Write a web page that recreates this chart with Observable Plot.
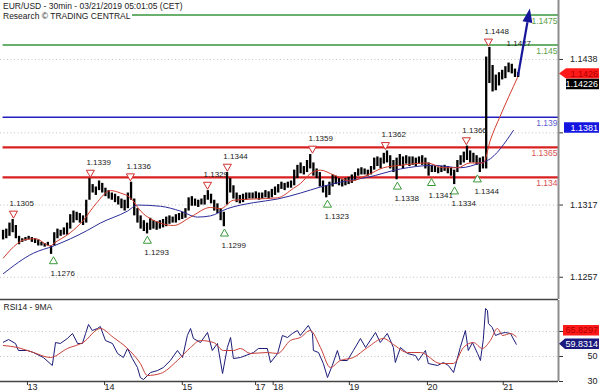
<!DOCTYPE html>
<html>
<head>
<meta charset="utf-8">
<script src="https://cdn.jsdelivr.net/npm/d3@7"></script>
<script src="https://cdn.jsdelivr.net/npm/@observablehq/plot@0.6"></script>
<style>
html,body{margin:0;padding:0;background:#fff;}
#wrap{position:relative;width:600px;height:392px;overflow:hidden;font-family:"Liberation Sans",Arial,sans-serif;}
#chart svg{display:block;overflow:visible}
.t{position:absolute;left:0;background:#fff;font-size:8.5px;line-height:10px;color:#222;padding:0 1px 0 3px;white-space:nowrap}
</style>
</head>
<body>
<div id="wrap">
  <div id="chart"></div>
  <div class="t" style="top:1px">EUR/USD - 30min - 03/21/2019 05:01:05 (CET)</div>
  <div class="t" style="top:11px">Research © TRADING CENTRAL</div>
</div>
<script>
// ---------------- data ----------------
// hourly bars, trading-hour index starting at -7 (13 Mar 00:00 = 0)
const firstHour = -7;
const barHigh = [1.1296,1.1297,1.1302,1.1305,1.1300,1.1291,1.1289,1.1290,1.1291,1.1290,1.1289,1.1288,1.1286,1.1285,1.1286,1.1283,
1.1294,1.1297,1.1296,1.1298,1.1302,1.1309,1.1312,1.1311,1.1310,1.1308,1.1321,1.1339,1.1334,1.1332,1.1337,1.1335,1.1331,1.1329,1.1327,1.1326,
1.1324,1.1322,1.1321,1.1327,1.1336,1.1322,1.1314,1.1308,1.1304,1.1302,1.1306,1.1304,1.1303,1.1304,1.1305,1.1307,1.1308,1.1307,1.1309,1.1310,
1.1311,1.1314,1.1323,1.1324,1.1322,1.1321,1.1322,1.1325,1.1329,1.1326,1.1321,1.1318,1.1314,1.1311,1.1344,1.1339,1.1333,1.1327,1.1325,1.1326,
1.1327,1.1327,1.1327,1.1328,1.1327,1.1327,1.1329,1.1328,1.1330,1.1332,1.1334,1.1336,1.1335,1.1336,1.1337,1.1346,1.1350,1.1352,1.1349,1.1354,
1.1359,1.1352,1.1347,1.1344,1.1337,1.1333,1.1336,1.1342,1.1341,1.1339,1.1338,1.1339,1.1340,1.1342,1.1344,1.1347,1.1348,1.1347,1.1346,1.1349,
1.1356,1.1357,1.1356,1.1360,1.1362,1.1358,1.1354,1.1356,1.1359,1.1357,1.1358,1.1357,1.1357,1.1356,1.1357,1.1358,1.1356,1.1352,1.1350,1.1349,
1.1348,1.1349,1.1350,1.1349,1.1348,1.1346,1.1354,1.1358,1.1361,1.1366,1.1362,1.1360,1.1358,1.1356,1.1357,1.1440,1.1448,1.1433,1.1425,1.1427,
1.1429,1.1432,1.1435,1.1434,1.1430,1.1427];
const barLow = [1.1288,1.1289,1.1291,1.1294,1.1289,1.1284,1.1286,1.1287,1.1288,1.1286,1.1285,1.1283,1.1283,1.1282,1.1283,1.1276,
1.1283,1.1289,1.1291,1.1292,1.1292,1.1297,1.1302,1.1304,1.1302,1.1300,1.1302,1.1321,1.1327,1.1325,1.1329,1.1327,1.1324,1.1322,1.1321,1.1319,
1.1317,1.1314,1.1312,1.1314,1.1321,1.1308,1.1302,1.1297,1.1295,1.1293,1.1296,1.1297,1.1296,1.1297,1.1298,1.1299,1.1301,1.1302,1.1302,1.1304,
1.1305,1.1306,1.1312,1.1316,1.1316,1.1315,1.1317,1.1317,1.1321,1.1318,1.1312,1.1310,1.1304,1.1299,1.1317,1.1327,1.1322,1.1319,1.1318,1.1319,
1.1321,1.1322,1.1322,1.1322,1.1321,1.1322,1.1323,1.1322,1.1323,1.1325,1.1327,1.1330,1.1329,1.1331,1.1331,1.1333,1.1339,1.1343,1.1342,1.1344,
1.1347,1.1341,1.1339,1.1332,1.1327,1.1323,1.1325,1.1332,1.1334,1.1333,1.1332,1.1333,1.1334,1.1335,1.1337,1.1341,1.1342,1.1342,1.1341,1.1342,
1.1346,1.1349,1.1347,1.1351,1.1352,1.1347,1.1344,1.1338,1.1349,1.1347,1.1351,1.1349,1.1350,1.1349,1.1351,1.1350,1.1347,1.1341,1.1344,1.1344,
1.1343,1.1344,1.1345,1.1343,1.1341,1.1334,1.1344,1.1350,1.1352,1.1354,1.1352,1.1352,1.1350,1.1344,1.1347,1.1347,1.1418,1.1411,1.1412,1.1416,
1.1421,1.1422,1.1427,1.1426,1.1423,1.1423];

const maFastHours  = [-6.9,-2.5,-0.6,3.1,7.8,8.8,14,18,22,26.6,29.7,32.8,36,42.2,46.3,51.6,57.8,61,65,71.3,78.8,83.8,86,89,92.2,96.3,101.6,106.9,111.9,117.2,125.6,130.6,135,139,143.1,145.3,148.4,153.8];
const maFastValues = [1.1273,1.1285,1.1288,1.1289,1.1283,1.1285,1.1294,1.1304,1.1318,1.1329,1.1327,1.1323,1.1312,1.1302,1.1300,1.1307,1.1315,1.1314,1.1321,1.1322,1.1323,1.1331,1.1335,1.1343,1.1346,1.1342,1.1337,1.1342,1.1348,1.1350,1.1352,1.1348,1.1348,1.1352,1.1352,1.1371,1.1391,1.1423];
const maSlowHours  = [-6.9,2.5,8.8,19.4,23.4,31.9,35,42.2,48.4,53.8,57.8,63.1,71.3,78.8,86,92.2,98.4,106.9,117.2,127.5,135.9,142.2,144.4,152.5];
const maSlowValues = [1.1260,1.1277,1.1283,1.1296,1.1302,1.1312,1.1317,1.1316,1.1312,1.1307,1.1308,1.1314,1.1319,1.1322,1.1327,1.1332,1.1336,1.1340,1.1347,1.1350,1.1348,1.1352,1.1354,1.1379];

const levelValues = [1.1475, 1.145, 1.139, 1.1365, 1.134];
const levelLabels = ["1.1475", "1.145", "1.139", "1.1365", "1.134"];
const levelKinds  = ["target", "target", "pivot", "level", "level"];

const highHours  = [-3.75, 20.3, 32.8, 56.9, 63.1, 89.7, 112.5, 137.8, 144.7];
const highValues = [1.1305, 1.1339, 1.1336, 1.1329, 1.1344, 1.1359, 1.1362, 1.1366, 1.1448];
const lowHours   = [8.75, 38.1, 62.2, 94.4, 116.25, 126.9, 134.1, 141.25];
const lowValues  = [1.1276, 1.1293, 1.1299, 1.1323, 1.1338, 1.1341, 1.1334, 1.1344];
const lastHighHour = 151.6, lastHighValue = 1.1427;

const arrowFrom = {h: 154.1, p: 1.1424};
const arrowTo   = {h: 157.8, p: 1.1480};

const priceTicks = [1.1257, 1.1317, 1.1377, 1.1438];
const priceTickLabels = ["1.1257", "1.1317", "", "1.1438"]; // 1.1377 sits under the 1.1381 tag
const priceTags  = [1.1426, 1.14226, 1.1381];

const rsiHours  = [-6.9,-5.3,-3.1,-2.2,0.6,2.5,5.6,8.4,9.4,10.9,13.1,14.7,16.3,17.8,18.8,19.7,20.9,22.5,23.4,25,27.2,28.8,30.6,31.9,33.4,35,35.9,36.9,39.1,41.3,43.1,45.3,47.5,49.1,50.6,51.6,52.5,54.7,56.9,58.4,60,61.6,63.1,64.1,65,67.2,71.3,72.8,75.6,76.6,78.8,80.3,81.9,83.4,85,85.9,88.4,89.7,90,91.6,93.1,94.4,95.9,97.5,98.4,100.6,102.5,104.7,106.3,109.4,110.9,113.1,115,115.6,117.2,119.4,121.9,122.8,125,125.9,128.8,130.6,132.2,133.8,135.9,137.5,138.4,139.7,141.3,142.2,143.1,143.8,144.4,144.7,145.9,146.9,148.4,150,151.6,153.4];
const rsiValues = [61.4,63.6,60.4,54.8,54.8,53.2,49.2,42.8,61.2,60.4,64.4,68.4,60.4,60.4,68.4,75.6,70.8,72.4,74,62.8,60.4,52.4,49.2,56.4,48.4,41.2,33.2,31.6,37.2,38.8,41.2,46.8,54.8,49.2,66.8,72.4,64.4,61.2,69.2,54.8,60.4,36.4,57.2,65.2,48.4,49.2,53.2,56.4,56.4,45.2,52.4,66.8,65.2,68.4,70.8,66.8,74.8,68.4,54.8,53.2,44.4,33.2,42.8,54.8,46.8,46.8,54.8,64.4,57.2,69.2,61.2,68.4,57.2,45.2,57.2,52.4,50.8,46.8,54.8,44.4,42.8,45.2,42.8,37.2,57.2,70.8,54.8,61.2,52.4,46.8,63.6,88.4,86.8,76.4,73.2,66.8,68.4,69.2,68.4,59.8];
const rsiMaHours  = [-6.9,-2.5,2.5,7.8,13.1,18,23.4,27.5,31.9,35.9,38.1,42.2,47.5,51.6,54.7,58.8,61.9,65,67.2,70.3,75.6,78.8,82.8,85.9,89,92.2,95.3,98.4,102.5,106.9,111.9,115,119.4,123.4,129.7,133.8,136.9,140,142.8,145.3,147.5,149.1,151.6,153.4];
const rsiMaValues = [58.8,57.2,53.2,49.2,56.4,61.2,72.4,65.2,56.4,44.4,34.8,36.4,46.8,57.2,62.8,61.2,54.8,54.8,56.4,52.4,53.2,52.4,62.8,65.2,70.8,57.2,41.2,46.8,49.2,57.2,64.4,59.6,53.2,53.2,44.4,44.4,57.2,61.2,56.4,62.8,72.4,66.8,68.4,65.8];
const rsiTicks = [30, 50, 70];
const rsiTickLabels = ["30", "50", ""]; // 70 sits under the 65.8297 tag
const rsiTags  = [65.8297, 59.8314];

const dayHours  = [0, 24.1, 48.4, 71.3, 76.8, 100.6, 125, 148.7];
const dayLabels = ["13", "14", "15", "17", "18", "19", "20", "21"];

// ---------------- tables ----------------
const bars = barHigh.map((hi, i) => ({h: firstHour + i, high: hi, low: barLow[i]}));
const maFast = maFastHours.map((h, i) => ({h, v: maFastValues[i]}));
const maSlow = maSlowHours.map((h, i) => ({h, v: maSlowValues[i]}));
const levels = levelValues.map((v, i) => ({v, label: levelLabels[i], kind: levelKinds[i]}));
const highs = highHours.map((h, i) => ({h, v: highValues[i], label: highValues[i].toFixed(4)}));
const lows = lowHours.map((h, i) => ({h, v: lowValues[i], label: lowValues[i].toFixed(4)}));
const rsi = rsiHours.map((h, i) => ({h, v: rsiValues[i]}));
const rsiMa = rsiMaHours.map((h, i) => ({h, v: rsiMaValues[i]}));

// ---------------- styling ----------------
const FONT = '"Liberation Sans", Arial, sans-serif';
const xDomain = [-7.8, 166.6];
const lineColor = {target: "#36963a", pivot: "#2020c0", level: "#d82020"};
const textColor = {target: "#5da04a", pivot: "#6060d0", level: "#d85050"};
const lineWidth = {target: 1.5, pivot: 1.5, level: 2.2};
const AXIS = "#8c8c8c";

function tag(value, label, {fill, color, pointer = false, shift = 0, left = 8}) {
  return (index, scales, values, dims) => {
    const x0 = dims.width - dims.marginRight;
    const y = scales.y(value) + shift;
    const r = dims.width - 1, l = x0 + left, hh = 5.2;
    const d = pointer
      ? `M${x0 + 1},${y}L${l},${y - hh}H${r}V${y + hh}H${l}Z`
      : `M${l},${y - hh}H${r}V${y + hh}H${l}Z`;
    const g = d3.create("svg:g");
    g.append("path").attr("d", d).attr("fill", fill);
    g.append("text").attr("x", r - 1).attr("y", y).attr("dy", "0.36em")
      .attr("text-anchor", "end").attr("fill", color)
      .attr("font-size", 9).attr("font-family", FONT).text(label);
    return g.node();
  };
}

function arrowMark(from, to, color) {
  return (index, scales) => {
    const x1 = scales.x(from.h), y1 = scales.y(from.p);
    const x2 = scales.x(to.h), y2 = scales.y(to.p);
    const a = Math.atan2(y2 - y1, x2 - x1);
    const L = 14, W = 5;
    const bx = x2 - L * Math.cos(a), by = y2 - L * Math.sin(a);
    const px = -Math.sin(a) * W, py = Math.cos(a) * W;
    const g = d3.create("svg:g");
    g.append("line").attr("x1", x1).attr("y1", y1).attr("x2", bx).attr("y2", by)
      .attr("stroke", color).attr("stroke-width", 2.2);
    g.append("path").attr("d", `M${x2},${y2}L${bx + px},${by + py}L${bx - px},${by - py}Z`).attr("fill", color);
    return g.node();
  };
}

const priceY = [1.12385, 1.1487];

const pricePlot = Plot.plot({
  width: 600, height: 300,
  marginLeft: 0, marginRight: 42, marginTop: 0, marginBottom: 1,
  x: {domain: xDomain, axis: null, label: null},
  y: {domain: priceY, axis: null, label: null},
  style: {fontFamily: FONT, fontSize: "9px", background: "transparent", overflow: "visible"},
  marks: [
    Plot.ruleY(priceTicks, {stroke: "#c4c4c4", strokeDasharray: "1,2.5"}),
    ...["target", "pivot", "level"].map(k =>
      Plot.ruleY(levels.filter(d => d.kind === k), {y: "v", x1: bars[0].h, x2: xDomain[1], stroke: lineColor[k], strokeWidth: lineWidth[k]})),
    ...["target", "pivot", "level"].map(k =>
      Plot.text(levels.filter(d => d.kind === k), {y: "v", text: "label", frameAnchor: "right", textAnchor: "end", dx: -1, dy: 6, fill: textColor[k], fontSize: 8.5})),
    Plot.ruleX(bars, {x: "h", y1: "low", y2: "high", stroke: "#000", strokeWidth: 2.3}),
    Plot.line(maSlow, {x: "h", y: "v", stroke: "#2b2b9c", strokeWidth: 1, curve: "monotone-x"}),
    Plot.line(maFast, {x: "h", y: "v", stroke: "#d23c2c", strokeWidth: 1, curve: "monotone-x"}),
    Plot.dot(highs, {x: "h", y: "v", dy: -6, symbol: "triangle", rotate: 180, r: 3, fill: "#fff", stroke: "#d03030", strokeWidth: 1}),
    Plot.text(highs, {x: "h", y: "v", text: "label", dy: -16, dx: -4, textAnchor: "start", fontSize: 8, fill: "#222"}),
    Plot.text([{h: lastHighHour, v: lastHighValue}], {x: "h", y: "v", text: d => d.v.toFixed(4), dy: -29, dx: -4, textAnchor: "start", fontSize: 8, fill: "#222"}),
    Plot.dot(lows, {x: "h", y: "v", dy: 7, symbol: "triangle", r: 3, fill: "#fff", stroke: "#3a9a3a", strokeWidth: 1}),
    Plot.text(lows, {x: "h", y: "v", text: "label", dy: 19, dx: -3, textAnchor: "start", fontSize: 8, fill: "#222"}),
    arrowMark(arrowFrom, arrowTo, "#16169a"),
    Plot.ruleY([priceY[0]], {stroke: "#444", strokeWidth: 1.5}),
    Plot.axisY({anchor: "right", ticks: priceTicks, tickFormat: d => priceTickLabels[priceTicks.indexOf(d)], tickSize: 4, tickPadding: 35, textAnchor: "end", label: null, fontSize: 9, stroke: "#333", fill: "#222"}),
    Plot.ruleX([xDomain[1]], {stroke: AXIS, strokeWidth: 2}),
    tag(priceTags[2], priceTags[2].toFixed(4), {fill: "#1515e0", color: "#fff", left: 6}),
    tag(priceTags[0], priceTags[0].toFixed(4), {fill: "#ff1a1a", color: "#b00000", pointer: true}),
    tag(priceTags[1], priceTags[1].toFixed(5), {fill: "#000", color: "#fff", shift: 6.5})
  ]
});

const rsiY = [30, 94.8];
const rsiPlot = Plot.plot({
  width: 600, height: 92,
  marginLeft: 0, marginRight: 42, marginTop: 0, marginBottom: 11,
  x: {domain: xDomain, axis: null, label: null},
  y: {domain: rsiY, axis: null, label: null},
  style: {fontFamily: FONT, fontSize: "9px", background: "transparent", overflow: "visible"},
  marks: [
    Plot.ruleY([50, 70], {stroke: "#c4c4c4", strokeDasharray: "1,2.5"}),
    Plot.line(rsi, {x: "h", y: "v", stroke: "#1c1c78", strokeWidth: 1}),
    Plot.line(rsiMa, {x: "h", y: "v", stroke: "#c8403a", strokeWidth: 1, curve: "monotone-x"}),
    Plot.text(["RSI14 - 9MA"], {frameAnchor: "top-left", dx: 3, dy: 3, lineAnchor: "top", fontSize: 8.5, fill: "#222"}),
    Plot.ruleY([rsiY[0]], {stroke: "#444", strokeWidth: 1.5}),
    Plot.axisX({ticks: dayHours, tickFormat: d => dayLabels[dayHours.indexOf(d)], tickSize: 4, tickPadding: -2, textAnchor: "start", dx: 2, label: null, fontSize: 9, stroke: "#333", fill: "#222"}),
    Plot.axisY({anchor: "right", ticks: rsiTicks, tickFormat: d => rsiTickLabels[rsiTicks.indexOf(d)], tickSize: 4, tickPadding: 35, textAnchor: "end", label: null, fontSize: 9, stroke: "#333", fill: "#222"}),
    Plot.ruleX([xDomain[1]], {stroke: AXIS, strokeWidth: 2}),
    tag(rsiTags[0], rsiTags[0].toFixed(4), {fill: "#ff1a1a", color: "#b00000", shift: -6, left: 5}),
    tag(rsiTags[1], rsiTags[1].toFixed(4), {fill: "#1a1a7e", color: "#fff", pointer: true, left: 7})
  ]
});

const chart = document.getElementById("chart");
chart.appendChild(pricePlot);
chart.appendChild(rsiPlot);
</script>
</body>
</html>
